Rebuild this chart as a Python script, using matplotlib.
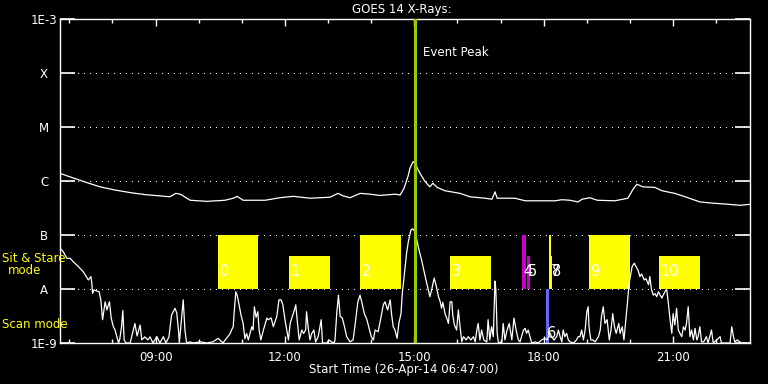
import numpy as np
import matplotlib
matplotlib.use("Agg")
import matplotlib.pyplot as plt

# GOES 14 long channel (1-8 A), time in decimal hours of 26-Apr-14
long_t = [6.78, 7.02, 7.36, 7.71, 8.06, 8.41, 8.75, 9.10, 9.33, 9.47,
          9.57, 9.64, 9.80, 10.19, 10.61, 10.80, 10.89, 11.03, 11.54, 11.88,
          12.19, 12.58, 13.04, 13.23, 13.35, 13.51, 13.74, 13.97, 14.20, 14.55,
          14.67, 14.76, 14.85, 14.90, 14.97, 15.01, 15.06, 15.13, 15.25, 15.36,
          15.43, 15.53, 15.71, 16.06, 16.29, 16.64, 16.80, 16.87, 16.92, 17.33,
          17.57, 18.26, 18.42, 18.61, 18.79, 18.89, 19.07, 19.24, 19.65, 19.95,
          20.07, 20.16, 20.30, 20.58, 20.74, 21.04, 21.28, 21.62, 21.90, 22.20,
          22.55, 22.78]
long_flux = [1.39e-6, 1.19e-6, 9.6e-7, 7.8e-7, 6.8e-7, 6.1e-7, 5.6e-7, 5.3e-7, 5.1e-7, 5.9e-7,
             5.7e-7, 5.3e-7, 4.4e-7, 4.2e-7, 4.4e-7, 4.8e-7, 5.2e-7, 4.4e-7, 4.4e-7, 4.9e-7,
             5.2e-7, 4.8e-7, 5.0e-7, 5.9e-7, 5.3e-7, 4.9e-7, 5.9e-7, 5.7e-7, 5.4e-7, 5.7e-7,
             5.5e-7, 7.3e-7, 1.2e-6, 1.74e-6, 2.28e-6, 2.15e-6, 1.79e-6, 1.39e-6, 9.7e-7, 7.8e-7,
             9.1e-7, 7.6e-7, 6.6e-7, 5.9e-7, 5.1e-7, 4.8e-7, 4.6e-7, 6.3e-7, 4.8e-7, 4.8e-7,
             4.3e-7, 4.3e-7, 4.5e-7, 4.4e-7, 4.1e-7, 4.6e-7, 4.9e-7, 4.4e-7, 4.3e-7, 4.8e-7,
             7.0e-7, 8.7e-7, 7.8e-7, 7.6e-7, 6.6e-7, 5.9e-7, 5.1e-7, 4.1e-7, 3.9e-7, 3.75e-7,
             3.55e-7, 3.7e-7]

# short channel (0.5-4 A)
short_t = [6.78, 6.86, 6.94, 7.02, 7.09, 7.21, 7.32, 7.44, 7.50, 7.52,
           7.54, 7.57, 7.63, 7.69, 7.73, 7.77, 7.83, 7.87, 7.93, 7.97,
           8.02, 8.06, 8.10, 8.14, 8.17, 8.21, 8.24, 8.27, 8.31, 8.41,
           8.52, 8.57, 8.64, 8.68, 8.75, 8.82, 8.87, 8.94, 9.03, 9.10,
           9.18, 9.24, 9.31, 9.37, 9.45, 9.49, 9.53, 9.55, 9.61, 9.64,
           9.68, 9.72, 9.80, 9.87, 10.03, 10.19, 10.33, 10.45, 10.56, 10.73,
           10.76, 10.80, 10.82, 10.86, 10.89, 10.93, 10.98, 11.03, 11.07, 11.11,
           11.15, 11.23, 11.26, 11.29, 11.33, 11.37, 11.40, 11.44, 11.50, 11.58,
           11.61, 11.68, 11.73, 11.81, 11.86, 11.91, 11.95, 12.00, 12.04, 12.08,
           12.12, 12.17, 12.22, 12.25, 12.29, 12.33, 12.39, 12.43, 12.48, 12.50,
           12.54, 12.58, 12.62, 12.67, 12.71, 12.77, 12.84, 12.87, 12.97, 13.02,
           13.08, 13.14, 13.16, 13.20, 13.24, 13.28, 13.33, 13.38, 13.43, 13.51,
           13.58, 13.62, 13.69, 13.74, 13.78, 13.84, 13.90, 13.95, 14.00, 14.05,
           14.09, 14.16, 14.23, 14.28, 14.32, 14.38, 14.44, 14.47, 14.51, 14.55,
           14.60, 14.64, 14.69, 14.72, 14.77, 14.82, 14.86, 14.92, 14.96, 15.01,
           15.05, 15.11, 15.17, 15.21, 15.27, 15.32, 15.36, 15.40, 15.46, 15.50,
           15.56, 15.60, 15.63, 15.66, 15.71, 15.75, 15.79, 15.83, 15.87, 15.89,
           15.93, 15.98, 16.02, 16.06, 16.10, 16.14, 16.20, 16.25, 16.31, 16.37,
           16.41, 16.45, 16.48, 16.52, 16.56, 16.61, 16.68, 16.71, 16.75, 16.79,
           16.83, 16.87, 16.89, 16.92, 16.95, 17.03, 17.06, 17.10, 17.15, 17.20,
           17.26, 17.31, 17.36, 17.41, 17.45, 17.53, 17.57, 17.60, 17.64, 17.68,
           17.72, 17.80, 17.87, 17.95, 18.03, 18.08, 18.15, 18.18, 18.24, 18.30,
           18.34, 18.38, 18.42, 18.45, 18.49, 18.53, 18.57, 18.61, 18.69, 18.76,
           18.80, 18.84, 18.88, 18.92, 18.96, 19.00, 19.03, 19.05, 19.09, 19.14,
           19.19, 19.27, 19.31, 19.34, 19.38, 19.42, 19.47, 19.52, 19.56, 19.60,
           19.64, 19.68, 19.74, 19.77, 19.82, 19.86, 19.90, 19.94, 19.98, 20.02,
           20.05, 20.10, 20.14, 20.19, 20.23, 20.27, 20.33, 20.37, 20.43, 20.46,
           20.50, 20.54, 20.58, 20.62, 20.66, 20.70, 20.74, 20.77, 20.81, 20.85,
           20.89, 20.93, 20.97, 21.00, 21.04, 21.08, 21.12, 21.16, 21.20, 21.24,
           21.28, 21.31, 21.35, 21.39, 21.43, 21.47, 21.51, 21.55, 21.58, 21.62,
           21.66, 21.71, 21.77, 21.81, 21.89, 21.93, 22.01, 22.09, 22.12, 22.24,
           22.32, 22.36, 22.40, 22.43, 22.49, 22.54, 22.59]
short_flux = [5.7e-8, 4.9e-8, 3.7e-8, 3.7e-8, 3.2e-8, 2.6e-8, 2.1e-8, 1.47e-8, 1.7e-8, 1.28e-8,
              8.3e-9, 9.6e-9, 9.2e-9, 8.9e-9, 6.3e-9, 2.7e-9, 5.8e-9, 4.1e-9, 5.8e-9, 2.9e-9,
              2.0e-9, 1.74e-9, 1.31e-9, 1.0e-9, 1.2e-9, 2.0e-9, 4.0e-9, 1.14e-9, 1.0e-9, 1.0e-9,
              2.3e-9, 1.35e-9, 2.15e-9, 1.14e-9, 1.3e-9, 1.14e-9, 1.3e-9, 1.0e-9, 1.31e-9, 1.0e-9,
              1.31e-9, 1.0e-9, 1.3e-9, 3.3e-9, 4.4e-9, 3.6e-9, 1.74e-9, 1.0e-9, 3.5e-9, 6.3e-9,
              1.74e-9, 1.0e-9, 1.05e-9, 1.0e-9, 1.05e-9, 1.0e-9, 1.05e-9, 1.22e-9, 1.0e-9, 1.5e-9,
              1.74e-9, 2.0e-9, 3.5e-9, 8.9e-9, 7.7e-9, 5.4e-9, 3.3e-9, 2.3e-9, 1.2e-9, 1.5e-9,
              1.14e-9, 2.0e-9, 1.74e-9, 4.7e-9, 3.0e-9, 3.8e-9, 1.74e-9, 1.14e-9, 1.74e-9, 2.9e-9,
              2.7e-9, 2.9e-9, 2.0e-9, 3.1e-9, 6.3e-9, 6.3e-9, 5.1e-9, 2.7e-9, 1.74e-9, 1.14e-9,
              2.3e-9, 3.1e-9, 4.1e-9, 5.1e-9, 2.3e-9, 1.14e-9, 1.74e-9, 1.5e-9, 1.74e-9, 3.8e-9,
              1.87e-9, 1.14e-9, 1.5e-9, 1.74e-9, 1.05e-9, 1.31e-9, 2.7e-9, 1.0e-9, 1.0e-9, 1.14e-9,
              1.05e-9, 1.0e-9, 1.14e-9, 3.5e-9, 7.7e-9, 3.1e-9, 2.9e-9, 2.0e-9, 1.31e-9, 1.05e-9,
              1.14e-9, 2.0e-9, 5.8e-9, 7.7e-9, 5.8e-9, 3.5e-9, 2.7e-9, 1.87e-9, 1.31e-9, 1.14e-9,
              1.74e-9, 1.62e-9, 3.1e-9, 5.1e-9, 5.8e-9, 4.1e-9, 6.3e-9, 3.5e-9, 2.0e-9, 1.74e-9,
              1.22e-9, 2.3e-9, 3.5e-9, 8.3e-9, 1.95e-8, 4.6e-8, 7.5e-8, 1.24e-7, 1.3e-7, 1.17e-7,
              8.6e-8, 5.2e-8, 3.4e-8, 2.4e-8, 1.47e-8, 1.0e-8, 7.2e-9, 9.6e-9, 1.6e-8, 1.2e-8,
              7.2e-9, 5.8e-9, 4.4e-9, 5.7e-9, 3.5e-9, 2.9e-9, 2.3e-9, 5.8e-9, 5.8e-9, 3.3e-9,
              2.15e-9, 1.74e-9, 4.1e-9, 2.0e-9, 1.05e-9, 1.31e-9, 1.14e-9, 1.31e-9, 1.14e-9, 1.31e-9,
              1.05e-9, 1.74e-9, 2.3e-9, 1.14e-9, 1.74e-9, 1.14e-9, 1.05e-9, 2.7e-9, 1.14e-9, 2.0e-9,
              1.31e-9, 1.4e-8, 9.6e-9, 1.51e-9, 1.0e-9, 1.05e-9, 2.3e-9, 1.14e-9, 1.74e-9, 2.3e-9,
              1.14e-9, 2.9e-9, 1.74e-9, 1.14e-9, 1.05e-9, 1.74e-9, 1.87e-9, 1.51e-9, 1.74e-9, 1.31e-9,
              1.0e-9, 1.05e-9, 1.0e-9, 1.14e-9, 1.22e-9, 1.14e-9, 1.51e-9, 1.31e-9, 1.14e-9, 1.31e-9,
              1.74e-9, 1.31e-9, 1.05e-9, 1.74e-9, 1.31e-9, 1.51e-9, 1.14e-9, 1.05e-9, 1.0e-9, 1.14e-9,
              1.31e-9, 1.31e-9, 1.74e-9, 1.14e-9, 1.74e-9, 3.8e-9, 4.7e-9, 2.0e-9, 1.14e-9, 1.14e-9,
              1.05e-9, 1.31e-9, 1.74e-9, 3.1e-9, 4.7e-9, 2.3e-9, 2.7e-9, 1.14e-9, 1.74e-9, 3.5e-9,
              2.0e-9, 1.51e-9, 2.3e-9, 1.51e-9, 2.0e-9, 1.14e-9, 2.5e-9, 5.4e-9, 1.28e-8, 1.9e-8,
              2.6e-8, 3.0e-8, 2.6e-8, 2.2e-8, 1.7e-8, 1.9e-8, 1.47e-8, 1.56e-8, 1.2e-8, 1.7e-8,
              9.6e-9, 7.7e-9, 8.2e-9, 7.2e-9, 8.9e-9, 7.7e-9, 6.8e-9, 7.7e-9, 8.9e-9, 1.0e-8,
              5.4e-9, 2.7e-9, 1.51e-9, 3.5e-9, 2.15e-9, 4.4e-9, 1.74e-9, 1.51e-9, 1.31e-9, 2.0e-9,
              1.74e-9, 2.3e-9, 4.7e-9, 1.31e-9, 1.74e-9, 1.14e-9, 1.87e-9, 1.14e-9, 1.31e-9, 2.0e-9,
              1.05e-9, 1.05e-9, 1.31e-9, 1.0e-9, 1.74e-9, 1.0e-9, 1.14e-9, 1.31e-9, 1.0e-9, 1.0e-9,
              1.0e-9, 2.0e-9, 1.31e-9, 1.05e-9, 1.14e-9, 1.05e-9, 1.0e-9]

# observation windows (numbered)
obs_labels = ['0', '1', '2', '3', '4', '5', '6', '7', '8', '9', '10']
obs_start = [10.45, 12.09, 13.74, 15.83, 17.50, 17.61, 18.05, 18.12, 18.17, 19.05, 20.67]
obs_end = [11.37, 13.04, 14.68, 16.77, 17.59, 17.68, 18.12, 18.17, 18.19, 20.00, 21.62]
obs_bottom = [1e-8, 1e-8, 1e-8, 1e-8, 1e-8, 1e-8, 1e-9, 1e-8, 1e-8, 1e-8, 1e-8]
obs_top = [1e-7, 4.1e-8, 1e-7, 4.1e-8, 1e-7, 4.1e-8, 1e-8, 1e-7, 4.1e-8, 1e-7, 4.1e-8]
obs_colors = ['#ffff00', '#ffff00', '#ffff00', '#ffff00', '#cc00cc', '#cc00cc',
              '#6464ff', '#ffff00', '#ffff00', '#ffff00', '#ffff00']
obs_label_y = [2.1e-8] * 6 + [1.5e-9] + [2.1e-8] * 4

event_peak = 15.015
t_start, t_end = 6.783, 22.783

level_vals = [1e-9, 1e-8, 1e-7, 1e-6, 1e-5, 1e-4, 1e-3]
level_labels = ['1E-9', 'A', 'B', 'C', 'M', 'X', '1E-3']
hour_ticks = [9, 12, 15, 18, 21]
hour_labels = ['09:00', '12:00', '15:00', '18:00', '21:00']

plt.rcParams['font.family'] = 'DejaVu Sans'
plt.rcParams['lines.scale_dashes'] = False

fig = plt.figure(figsize=(7.68, 3.84), dpi=100, facecolor='black')
ax = fig.add_axes([60 / 768, 1 - 343 / 384, 690 / 768, 324 / 384], facecolor='black')
ax.set_yscale('log')
ax.set_xlim(t_start, t_end)
ax.set_ylim(1e-9, 1e-3)

# dotted level lines
for v in level_vals[1:-1]:
    ax.axhline(v, color='white', lw=0.75, ls=(0, (0.72, 3.6)), antialiased=False, zorder=1)

# observation boxes
ax.bar(obs_start, np.array(obs_top) - np.array(obs_bottom),
       width=np.array(obs_end) - np.array(obs_start), bottom=obs_bottom,
       align='edge', color=obs_colors, linewidth=0, zorder=2)
for lab, x0, y in zip(obs_labels, obs_start, obs_label_y):
    ax.annotate(lab, (x0, y), xytext=(1, 0), textcoords='offset points',
                color='white', fontsize=10.5, ha='left', va='center', zorder=5)

ax.plot(long_t, long_flux, color='white', lw=0.9, zorder=3)
ax.plot(short_t, short_flux, color='white', lw=0.9, zorder=3)

ax.axvline(event_peak, color='#99cc00', lw=2.2, zorder=4)
ax.annotate('Event Peak', (event_peak, 1e-3), xytext=(6, -24), textcoords='offset points',
            color='white', fontsize=8.5, ha='left', va='center')

for s in ax.spines.values():
    s.set_color('white')
    s.set_linewidth(1.0)

ax.set_yticks(level_vals)
ax.set_yticklabels(level_labels)
ax.yaxis.set_minor_locator(matplotlib.ticker.NullLocator())
ax.tick_params(axis='y', which='major', direction='in', length=10.8, width=1.2,
               colors='white', left=True, right=True, labelsize=8.5, pad=11.5)
for lab in ax.get_yticklabels():
    lab.set_horizontalalignment('center')

ax.set_xticks(hour_ticks)
ax.set_xticklabels(hour_labels)
ax.set_xticks(list(range(7, 23)), minor=True)
ax.tick_params(axis='x', which='major', direction='in', length=5, width=1,
               colors='white', top=True, bottom=True, labelsize=8.5, pad=5.5)
ax.tick_params(axis='x', which='minor', direction='in', length=3, width=1,
               colors='white', top=True, bottom=True)

fig.text(402 / 768, 1 - 10 / 384, 'GOES 14 X-Rays:', color='white', fontsize=8.5,
         ha='center', va='center')
fig.text(404 / 768, 1 - 369.5 / 384, 'Start Time (26-Apr-14 06:47:00)', color='white',
         fontsize=8.5, ha='center', va='center')
fig.text(2 / 768, 1 - 259 / 384, 'Sit & Stare', color='#ffff00', fontsize=8.5,
         ha='left', va='center')
fig.text(25 / 768, 1 - 271 / 384, 'mode', color='#ffff00', fontsize=8.5,
         ha='center', va='center')
fig.text(2 / 768, 1 - 324 / 384, 'Scan mode', color='#ffff00', fontsize=8.5,
         ha='left', va='center')

fig.savefig('out.png', dpi=100, facecolor='black')
